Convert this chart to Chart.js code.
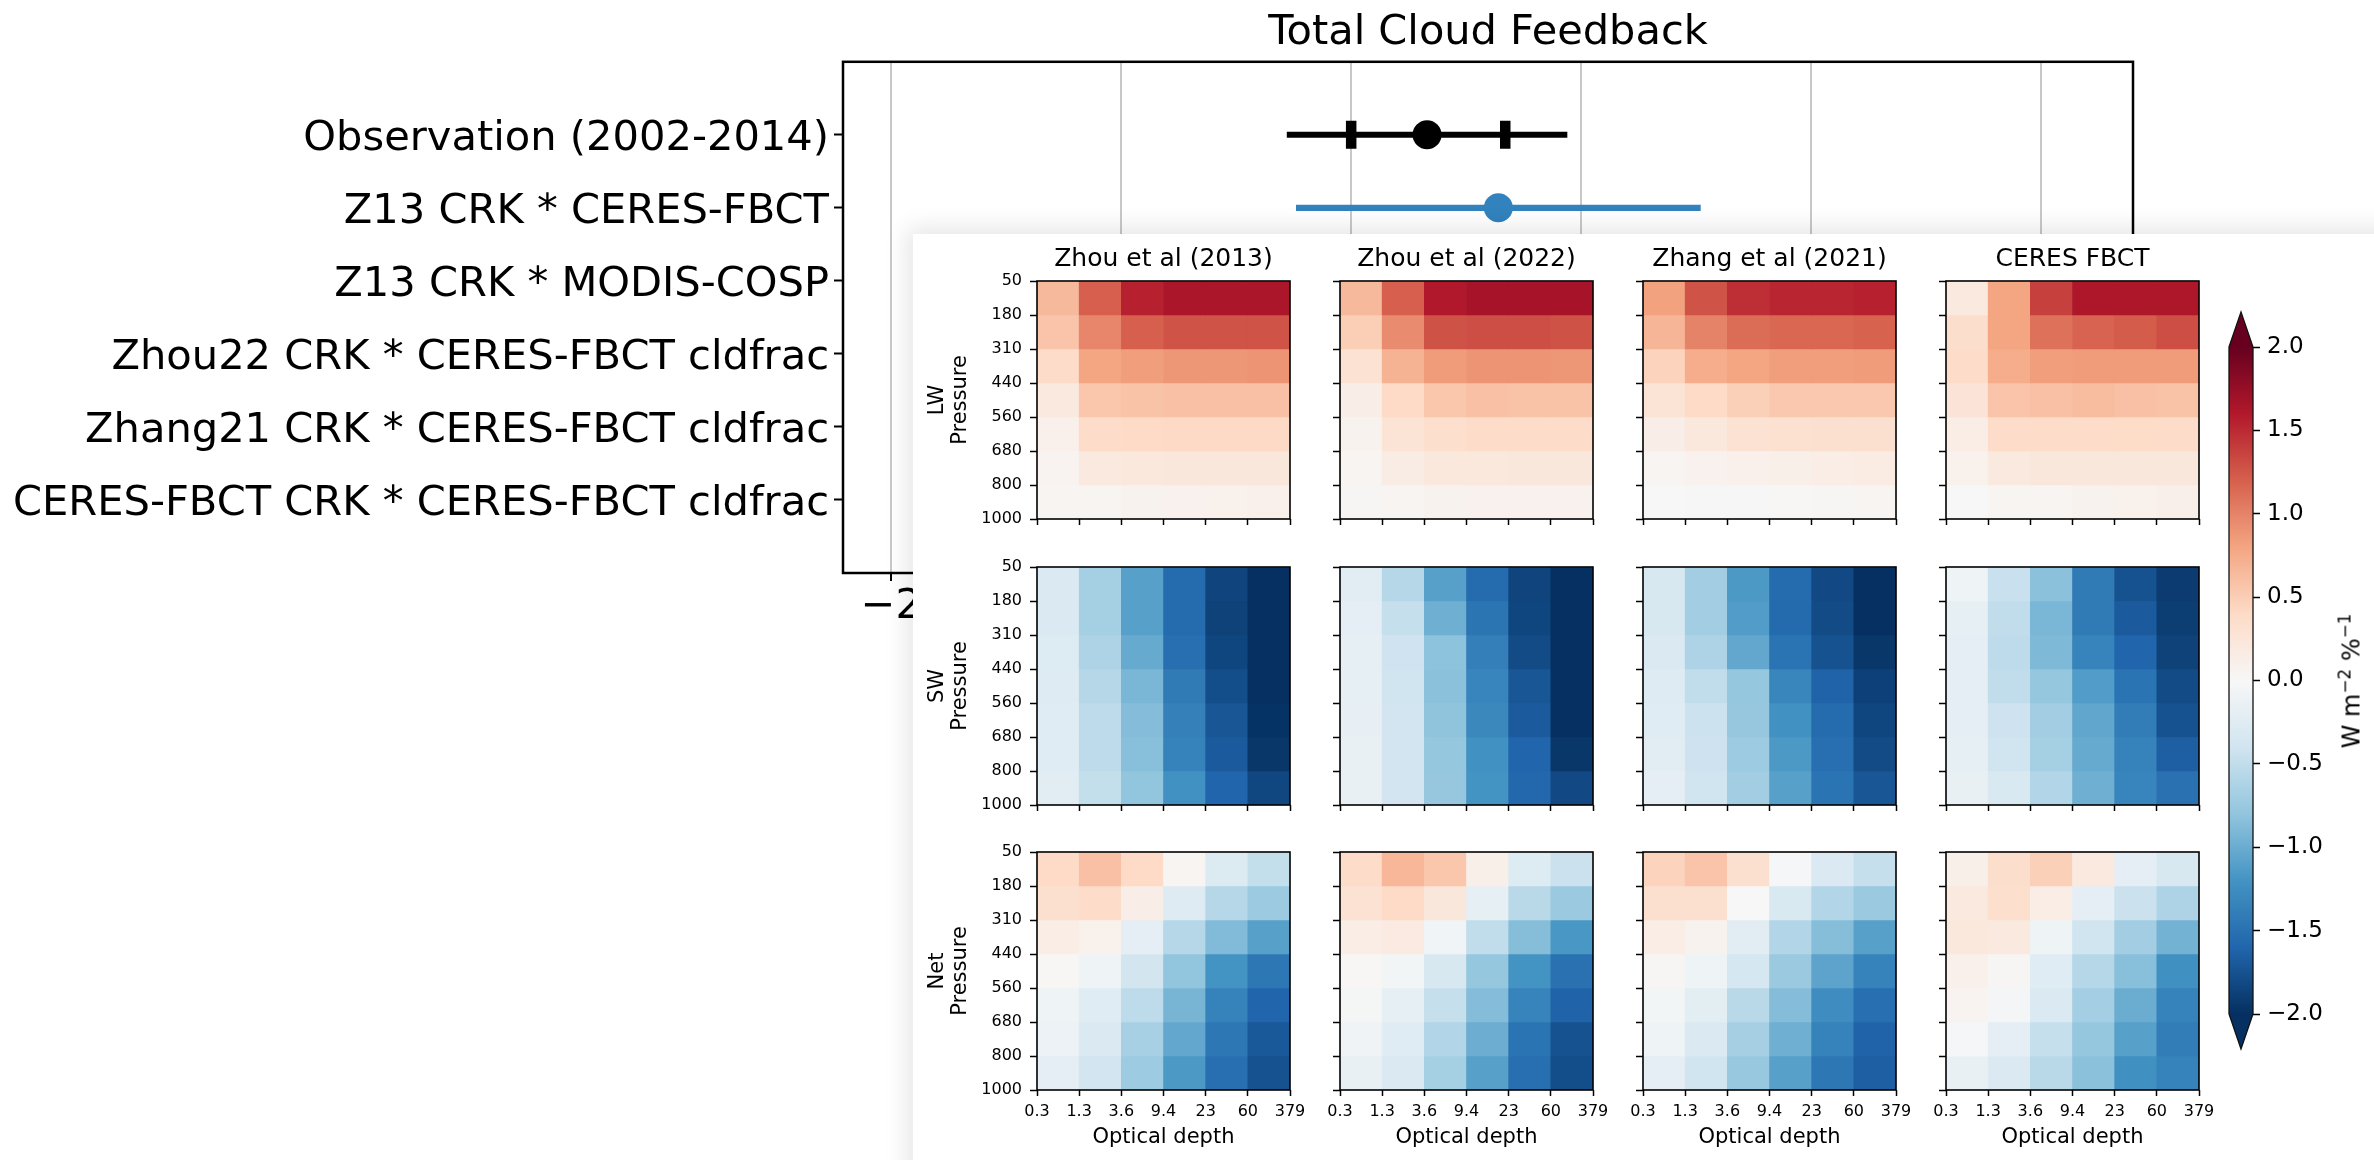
<!DOCTYPE html>
<html>
<head>
<meta charset="utf-8">
<script src="https://cdn.jsdelivr.net/npm/chart.js@4.4.1/dist/chart.umd.min.js"></script>
<style>
  html, body { margin: 0; padding: 0; background: #fff; }
  body { position: relative; width: 2374px; height: 1160px; overflow: hidden; font-family: 'DejaVu Sans', sans-serif; }
  canvas { position: absolute; }
  #sheet { position: absolute; left: 913px; top: 234px; width: 1520px; height: 1000px; background: #fff;
           box-shadow: 0 0 22px 6px rgba(0, 0, 0, 0.10); z-index: 1; }
  .hm { z-index: 2; }
  #cbLabel { position: absolute; left: 2350px; top: 681px; z-index: 3; font-size: 24px; white-space: nowrap;
             transform: translate(-50%, -50%) rotate(-90deg); color: #000; }
  #cbLabel sup { font-size: 70%; }
</style>
</head>
<body>
<canvas id="fbChart" width="2374" height="700" style="left:0;top:0"></canvas>
<div id="sheet"></div>
<canvas id="cbChart" class="hm" width="184" height="800" style="left:2190px;top:290px"></canvas>
<div id="cbLabel">W m<sup>&minus;2</sup> %<sup>&minus;1</sup></div>
<script>
// ---- top panel: total cloud feedback
const rowLabels = ['Observation (2002-2014)', 'Z13 CRK * CERES-FBCT', 'Z13 CRK * MODIS-COSP',
  'Zhou22 CRK * CERES-FBCT cldfrac', 'Zhang21 CRK * CERES-FBCT cldfrac', 'CERES-FBCT CRK * CERES-FBCT cldfrac'];
const fbRow = [0, 1];
const fbMean = [0.33, 0.64];
const fbLow = [-0.28, -0.24];
const fbHigh = [0.94, 1.52];
const fbColor = ['#000000', '#3182bd'];
const obsCaps = [0.0, 0.67];
const fbTicks = [-2, -1, 0, 1, 2, 3];

// ---- heatmaps: rows = pressure bins (top -> bottom), cols = optical depth bins
const tauEdges = ['0.3', '1.3', '3.6', '9.4', '23', '60', '379'];
const pressEdges = ['50', '180', '310', '440', '560', '680', '800', '1000'];
const colTitles = ['Zhou et al (2013)', 'Zhou et al (2022)', 'Zhang et al (2021)', 'CERES FBCT'];
const rowNames = ['LW', 'SW', 'Net'];
const cbTicks = [-2, -1.5, -1, -0.5, 0, 0.5, 1, 1.5, 2];

const lwZhou13 = [
  [0.65, 1.20, 1.55, 1.63, 1.63, 1.63],
  [0.57, 0.98, 1.20, 1.27, 1.27, 1.27],
  [0.38, 0.80, 0.84, 0.88, 0.88, 0.90],
  [0.20, 0.55, 0.58, 0.60, 0.60, 0.60],
  [0.10, 0.38, 0.40, 0.41, 0.41, 0.41],
  [0.06, 0.20, 0.22, 0.23, 0.23, 0.23],
  [0.04, 0.05, 0.07, 0.08, 0.09, 0.10]];
const lwZhou22 = [
  [0.65, 1.20, 1.60, 1.66, 1.66, 1.66],
  [0.50, 0.95, 1.28, 1.30, 1.30, 1.28],
  [0.30, 0.70, 0.86, 0.90, 0.90, 0.88],
  [0.13, 0.40, 0.55, 0.60, 0.58, 0.58],
  [0.07, 0.28, 0.35, 0.38, 0.38, 0.38],
  [0.05, 0.16, 0.22, 0.22, 0.23, 0.23],
  [0.03, 0.05, 0.07, 0.08, 0.08, 0.08]];
const lwZhang21 = [
  [0.82, 1.27, 1.48, 1.52, 1.52, 1.55],
  [0.68, 1.00, 1.13, 1.16, 1.16, 1.19],
  [0.45, 0.74, 0.80, 0.84, 0.84, 0.85],
  [0.28, 0.40, 0.48, 0.54, 0.54, 0.54],
  [0.13, 0.22, 0.30, 0.32, 0.33, 0.33],
  [0.05, 0.08, 0.10, 0.12, 0.15, 0.17],
  [0.00, 0.01, 0.01, 0.02, 0.03, 0.04]];
const lwCeres = [
  [0.20, 0.80, 1.38, 1.62, 1.62, 1.62],
  [0.36, 0.80, 1.10, 1.18, 1.22, 1.30],
  [0.38, 0.74, 0.84, 0.86, 0.86, 0.86],
  [0.27, 0.57, 0.60, 0.63, 0.60, 0.58],
  [0.15, 0.38, 0.38, 0.38, 0.39, 0.38],
  [0.09, 0.20, 0.23, 0.23, 0.23, 0.23],
  [0.00, 0.04, 0.05, 0.07, 0.09, 0.11]];

const swZhou13 = [
  [-0.30, -0.68, -1.10, -1.55, -1.85, -2.00],
  [-0.30, -0.68, -1.10, -1.55, -1.87, -2.00],
  [-0.27, -0.62, -1.02, -1.52, -1.84, -2.00],
  [-0.26, -0.58, -0.92, -1.42, -1.78, -2.00],
  [-0.24, -0.53, -0.87, -1.37, -1.72, -1.98],
  [-0.24, -0.53, -0.85, -1.35, -1.68, -1.95],
  [-0.22, -0.48, -0.80, -1.22, -1.60, -1.83]];
const swZhou22 = [
  [-0.22, -0.58, -1.10, -1.55, -1.85, -2.00],
  [-0.20, -0.47, -0.98, -1.47, -1.84, -2.00],
  [-0.18, -0.41, -0.82, -1.38, -1.80, -2.00],
  [-0.18, -0.40, -0.83, -1.33, -1.72, -2.00],
  [-0.17, -0.39, -0.81, -1.30, -1.68, -2.00],
  [-0.16, -0.39, -0.78, -1.22, -1.60, -1.95],
  [-0.16, -0.39, -0.77, -1.20, -1.58, -1.82]];
const swZhang21 = [
  [-0.33, -0.70, -1.15, -1.55, -1.82, -2.00],
  [-0.33, -0.70, -1.13, -1.56, -1.80, -2.00],
  [-0.31, -0.62, -1.04, -1.48, -1.75, -1.95],
  [-0.26, -0.50, -0.78, -1.32, -1.62, -1.88],
  [-0.24, -0.43, -0.77, -1.22, -1.55, -1.84],
  [-0.23, -0.42, -0.73, -1.15, -1.52, -1.80],
  [-0.20, -0.40, -0.70, -1.10, -1.48, -1.72]];
const swCeres = [
  [-0.10, -0.45, -0.83, -1.42, -1.75, -1.92],
  [-0.18, -0.50, -0.92, -1.42, -1.68, -1.90],
  [-0.20, -0.52, -0.90, -1.34, -1.60, -1.87],
  [-0.19, -0.50, -0.78, -1.13, -1.48, -1.80],
  [-0.19, -0.42, -0.70, -1.05, -1.40, -1.75],
  [-0.18, -0.40, -0.68, -1.02, -1.35, -1.65],
  [-0.16, -0.32, -0.60, -0.98, -1.33, -1.50]];

const netZhou13 = [
  [0.40, 0.60, 0.40, 0.05, -0.28, -0.48],
  [0.33, 0.38, 0.13, -0.26, -0.57, -0.74],
  [0.15, 0.09, -0.19, -0.58, -0.88, -1.10],
  [0.02, -0.10, -0.38, -0.80, -1.20, -1.45],
  [-0.10, -0.25, -0.53, -0.93, -1.35, -1.60],
  [-0.12, -0.30, -0.66, -1.04, -1.45, -1.70],
  [-0.20, -0.39, -0.73, -1.15, -1.52, -1.75]];
const netZhou22 = [
  [0.38, 0.67, 0.55, 0.12, -0.27, -0.44],
  [0.30, 0.40, 0.23, -0.18, -0.55, -0.75],
  [0.15, 0.18, -0.07, -0.50, -0.86, -1.17],
  [0.02, -0.05, -0.33, -0.78, -1.20, -1.50],
  [-0.03, -0.18, -0.47, -0.87, -1.34, -1.62],
  [-0.08, -0.25, -0.60, -0.99, -1.48, -1.75],
  [-0.15, -0.30, -0.68, -1.10, -1.52, -1.78]];
const netZhang21 = [
  [0.45, 0.57, 0.33, -0.02, -0.30, -0.47],
  [0.33, 0.33, 0.00, -0.32, -0.60, -0.75],
  [0.15, 0.07, -0.22, -0.60, -0.86, -1.10],
  [0.03, -0.10, -0.36, -0.75, -1.07, -1.35],
  [-0.05, -0.21, -0.55, -0.87, -1.25, -1.52],
  [-0.10, -0.29, -0.67, -0.98, -1.35, -1.62],
  [-0.20, -0.40, -0.76, -1.10, -1.45, -1.65]];
const netCeres = [
  [0.12, 0.36, 0.48, 0.20, -0.20, -0.33],
  [0.20, 0.35, 0.14, -0.19, -0.44, -0.62],
  [0.22, 0.20, -0.10, -0.40, -0.70, -0.95],
  [0.10, 0.03, -0.24, -0.58, -0.85, -1.23],
  [0.06, -0.04, -0.30, -0.69, -1.00, -1.35],
  [-0.02, -0.19, -0.47, -0.78, -1.10, -1.40],
  [-0.15, -0.29, -0.55, -0.83, -1.23, -1.35]];

const fields = [
  [lwZhou13, lwZhou22, lwZhang21, lwCeres],
  [swZhou13, swZhou22, swZhang21, swCeres],
  [netZhou13, netZhou22, netZhang21, netCeres]];

// ---- layout of the heatmap sheet
const panelLeft = [1037, 1340, 1643, 1946];
const panelTop = [281, 567, 852];
const PW = 253, PH = 238;

// RdBu_r, vmin -2, vmax 2
const rdbu = ['#053061', '#2166ac', '#4393c3', '#92c5de', '#d1e5f0', '#f7f7f7',
  '#fddbc7', '#f4a582', '#d6604d', '#b2182b', '#67001f'];
function hexRgb(h) { return [1, 3, 5].map(i => parseInt(h.substr(i, 2), 16)); }
function cmap(v) {
  const t = (Math.max(-2, Math.min(2, v)) + 2) / 4 * 10;
  const i = Math.min(9, Math.floor(t));
  const f = t - i;
  const a = hexRgb(rdbu[i]), b = hexRgb(rdbu[i + 1]);
  const c = a.map((x, k) => Math.round(x + (b[k] - x) * f));
  return 'rgb(' + c.join(',') + ')';
}
const minus = v => (v < 0 ? '\u2212' : '') + Math.abs(v);

Chart.defaults.font.family = "'DejaVu Sans', sans-serif";
Chart.defaults.color = '#000';
Chart.defaults.animation = false;
Chart.defaults.plugins.legend.display = false;
Chart.defaults.plugins.tooltip.enabled = false;

const frame = {
  id: 'frame',
  afterDraw(chart, args, opts) {
    const a = chart.chartArea, c = chart.ctx;
    c.save();
    c.strokeStyle = '#000';
    c.lineWidth = opts.width || 1.5;
    c.strokeRect(a.left, a.top, a.right - a.left, a.bottom - a.top);
    c.restore();
  }
};

// top chart datasets
const fbDatasets = [{
  data: fbMean.map((m, i) => ({ x: m, y: fbRow[i] })),
  pointRadius: 14.5, pointBackgroundColor: fbColor, pointBorderWidth: 0, order: 0
}, {
  data: obsCaps.map(x => ({ x: x, y: fbRow[0] })),
  pointStyle: 'line', rotation: 90, pointRadius: 14, pointBorderWidth: 10.5,
  pointBorderColor: fbColor[0], order: 1
}];
fbRow.forEach((r, i) => {
  fbDatasets.push({
    data: [{ x: fbLow[i], y: r }, { x: fbHigh[i], y: r }],
    showLine: true, borderColor: fbColor[i], borderWidth: i === 0 ? 6 : 6.3,
    borderCapStyle: 'butt', pointRadius: 0, order: 2
  });
});

new Chart(document.getElementById('fbChart'), {
  type: 'scatter',
  data: { datasets: fbDatasets },
  options: {
    responsive: false,
    layout: { padding: { left: 0, right: 241, top: 0, bottom: 0 } },
    plugins: {
      title: { display: true, text: 'Total Cloud Feedback', fullSize: false, color: '#000',
               font: { size: 41.5, weight: 'normal' }, padding: { top: 8, bottom: 4 } },
      frame: { width: 2.5 }
    },
    scales: {
      x: {
        type: 'linear', min: -2.21, max: 3.40,
        afterBuildTicks: s => { s.ticks = fbTicks.map(v => ({ value: v })); },
        afterFit: s => { s.height = 127; },
        ticks: { font: { size: 41.5 }, padding: 1, maxRotation: 0, autoSkip: false, callback: v => minus(v) },
        grid: { color: '#c8c8c8', lineWidth: 2, tickLength: 8, tickColor: '#000', tickWidth: 2 },
        border: { display: false }
      },
      y: {
        type: 'linear', min: -1, max: 6, reverse: true,
        afterBuildTicks: s => { s.ticks = rowLabels.map((_, i) => ({ value: i })); },
        afterFit: s => { s.width = 843; },
        ticks: { font: { size: 41.6 }, padding: 5, labelOffset: 4, autoSkip: false, callback: v => rowLabels[v] },
        grid: { drawOnChartArea: false, tickLength: 9, tickColor: '#000', tickWidth: 2 },
        border: { display: false }
      }
    }
  },
  plugins: [frame]
});

// heatmaps
function makeHeatmap(r, c) {
  const cv = document.createElement('canvas');
  cv.width = 120 + PW + 30;
  cv.height = 52 + PH + 70;
  cv.className = 'hm';
  cv.style.left = (panelLeft[c] - 120) + 'px';
  cv.style.top = (panelTop[r] - 52) + 'px';
  document.body.appendChild(cv);
  const grid = fields[r][c];
  const datasets = grid.map((row, p) => ({
    data: row.map((v, t) => ({ x: t + 0.5, y: [p, p + 1] })),
    backgroundColor: row.map(cmap),
    borderWidth: 0, grouped: false, barPercentage: 1, categoryPercentage: 1
  }));
  new Chart(cv, {
    type: 'bar',
    data: { datasets },
    options: {
      responsive: false,
      layout: { padding: { left: 0, right: 30, top: r === 0 ? 0 : 52, bottom: 0 } },
      plugins: {
        title: { display: r === 0, text: colTitles[c], fullSize: false, color: '#000',
                 font: { size: 25, weight: 'normal' }, padding: { top: 15.5, bottom: 6.5 } },
        frame: { width: 1.6 }
      },
      scales: {
        x: {
          type: 'linear', min: 0, max: 6, offset: false,
          afterBuildTicks: s => { s.ticks = tauEdges.map((_, i) => ({ value: i })); },
          afterFit: s => { s.height = 70; },
          ticks: { display: r === 2, font: { size: 16 }, padding: 6, maxRotation: 0, autoSkip: false,
                   callback: v => tauEdges[v] },
          grid: { drawOnChartArea: false, offset: false, tickLength: 6, tickColor: '#000', tickWidth: 1.5 },
          border: { display: false },
          title: { display: r === 2, text: 'Optical depth', font: { size: 21 }, padding: { top: 0, bottom: 10 } }
        },
        y: {
          type: 'linear', min: 0, max: 7, reverse: true,
          afterBuildTicks: s => { s.ticks = pressEdges.map((_, i) => ({ value: i })); },
          afterFit: s => { s.width = 120; },
          ticks: { display: c === 0, font: { size: 16 }, padding: 8, autoSkip: false,
                   callback: v => pressEdges[v] },
          grid: { drawOnChartArea: false, tickLength: 7, tickColor: '#000', tickWidth: 1.5 },
          border: { display: false },
          title: { display: c === 0, text: [rowNames[r], 'Pressure'], font: { size: 21, lineHeight: 1.05 },
                   padding: { top: 10, bottom: 0 } }
        }
      }
    },
    plugins: [frame]
  });
}
for (let r = 0; r < 3; r++) for (let c = 0; c < 4; c++) makeHeatmap(r, c);

// colorbar
const cbEnds = {
  id: 'cbEnds',
  afterDatasetsDraw(chart) {
    const { ctx, chartArea: a } = chart;
    const y = chart.scales.y;
    const top = y.getPixelForValue(cbTicks[cbTicks.length - 1]);
    const bot = y.getPixelForValue(cbTicks[0]);
    const mid = (a.left + a.right) / 2, h = 35;
    ctx.save();
    ctx.fillStyle = cmap(2);
    ctx.beginPath(); ctx.moveTo(a.left, top); ctx.lineTo(mid, top - h); ctx.lineTo(a.right, top); ctx.closePath(); ctx.fill();
    ctx.fillStyle = cmap(-2);
    ctx.beginPath(); ctx.moveTo(a.left, bot); ctx.lineTo(mid, bot + h); ctx.lineTo(a.right, bot); ctx.closePath(); ctx.fill();
    ctx.strokeStyle = '#111';
    ctx.lineWidth = 1.3;
    ctx.beginPath();
    ctx.moveTo(a.left, top); ctx.lineTo(mid, top - h); ctx.lineTo(a.right, top);
    ctx.lineTo(a.right, bot); ctx.lineTo(mid, bot + h); ctx.lineTo(a.left, bot); ctx.closePath();
    ctx.stroke();
    ctx.restore();
  }
};

new Chart(document.getElementById('cbChart'), {
  type: 'bar',
  data: {
    labels: [''],
    datasets: [{
      data: [[cbTicks[0], cbTicks[cbTicks.length - 1]]],
      backgroundColor: ctx => {
        const chart = ctx.chart;
        if (!chart.chartArea) return null;
        const y = chart.scales.y;
        const g = chart.ctx.createLinearGradient(0, y.getPixelForValue(-2), 0, y.getPixelForValue(2));
        rdbu.forEach((col, i) => g.addColorStop(i / 10, col));
        return g;
      },
      borderWidth: 0, barPercentage: 1, categoryPercentage: 1
    }]
  },
  options: {
    responsive: false,
    layout: { padding: { left: 39, top: 57, bottom: 76, right: 0 } },
    scales: {
      x: { display: false },
      y: {
        position: 'right', min: -2, max: 2,
        afterBuildTicks: s => { s.ticks = cbTicks.map(v => ({ value: v })); },
        afterFit: s => { s.width = 121; },
        ticks: { font: { size: 23 }, padding: 7, autoSkip: false,
                 callback: v => (v < 0 ? '\u2212' : '') + Math.abs(v).toFixed(1) },
        grid: { drawOnChartArea: false, tickLength: 7, tickColor: '#000', tickWidth: 1.5 },
        border: { display: false }
      }
    }
  },
  plugins: [cbEnds]
});
</script>
</body>
</html>
